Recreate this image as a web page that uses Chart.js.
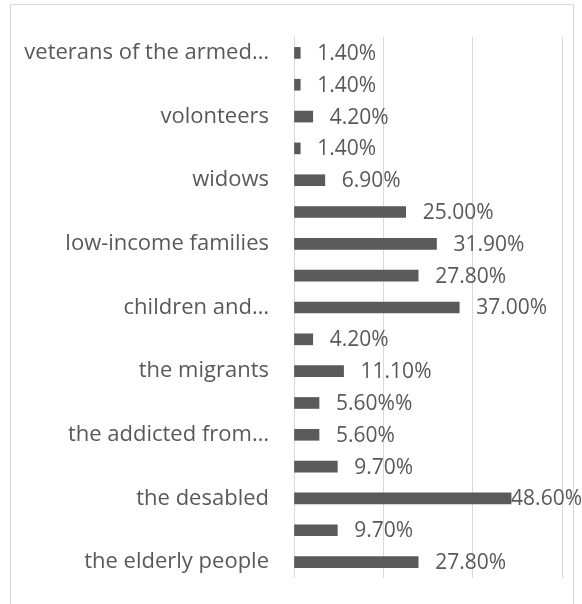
<!DOCTYPE html>
<html>
<head>
<meta charset="utf-8">
<script src="https://cdn.jsdelivr.net/npm/chart.js@4.4.1/dist/chart.umd.min.js"></script>
<style>
  html, body { margin: 0; padding: 0; background: #fff; }
  .frame { position: absolute; left: 10px; top: 4px; width: 562px; height: 640px; border: 1px solid #d9d9d9; }
  .wrap { position: absolute; left: 0; top: 0; width: 582px; height: 604px; }
</style>
</head>
<body>
<div class="frame"></div>
<div class="wrap"><canvas id="graph" width="582" height="604"></canvas></div>
<script>
const categories = [
  "veterans of the armed\u2026", "", "volonteers", "", "widows", "",
  "low-income families", "", "children and\u2026", "", "the migrants", "",
  "the addicted from\u2026", "", "the desabled", "", "the elderly people"
]
const values = [1.4, 1.4, 4.2, 1.4, 6.9, 25.0, 31.9, 27.8, 37.0, 4.2, 11.1, 5.6, 5.6, 9.7, 48.6, 9.7, 27.8]
const valueLabels = [
  "1.40%", "1.40%", "4.20%", "1.40%", "6.90%", "25.00%", "31.90%", "27.80%", "37.00%",
  "4.20%", "11.10%", "5.60%%", "5.60%", "9.70%", "48.60%", "9.70%", "27.80%"
]
const xTicks = [0, 20, 40, 60]

const FONT = "'Open Sans', sans-serif"
const TEXT = "#595959"

// value labels next to the bars (Excel style)
const barLabels = {
  id: 'barLabels',
  afterDatasetsDraw(chart) {
    const ctx = chart.ctx
    const meta = chart.getDatasetMeta(0)
    ctx.save()
    ctx.font = "21px " + FONT
    ctx.fillStyle = TEXT
    ctx.textBaseline = 'middle'
    ctx.textAlign = 'left'
    meta.data.forEach((bar, i) => {
      const txt = valueLabels[i]
      const w = ctx.measureText(txt).width
      let x = bar.x + 17
      if (x + w > chart.width) x = chart.width - w
      ctx.fillText(txt, x, bar.y + 1)
    })
    ctx.restore()
  }
}

new Chart(document.getElementById('graph').getContext('2d'), {
  type: 'bar',
  data: {
    labels: categories,
    datasets: [{
      data: values,
      backgroundColor: "#5a5a5a",
      barThickness: 11
    }]
  },
  options: {
    indexAxis: 'y',
    responsive: false,
    animation: false,
    layout: { padding: { top: 37, bottom: 26, right: 20, left: 0 } },
    plugins: {
      legend: { display: false },
      tooltip: { enabled: false }
    },
    scales: {
      x: {
        min: xTicks[0],
        max: xTicks[xTicks.length - 1],
        afterBuildTicks: (scale) => { scale.ticks = xTicks.map(v => ({ value: v })) },
        afterFit: (scale) => { scale.height = 0 },
        ticks: { display: false },
        grid: { color: "#d9d9d9", lineWidth: 1, drawTicks: false },
        border: { display: false }
      },
      y: {
        afterFit: (scale) => { scale.width = 294; scale.paddingTop = 0; scale.paddingBottom = 0 },
        ticks: {
          autoSkip: false,
          padding: 17,
          color: TEXT,
          font: { family: FONT, size: 22 }
        },
        grid: { display: false },
        border: { display: false }
      }
    }
  },
  plugins: [barLabels]
})
</script>
</body>
</html>
